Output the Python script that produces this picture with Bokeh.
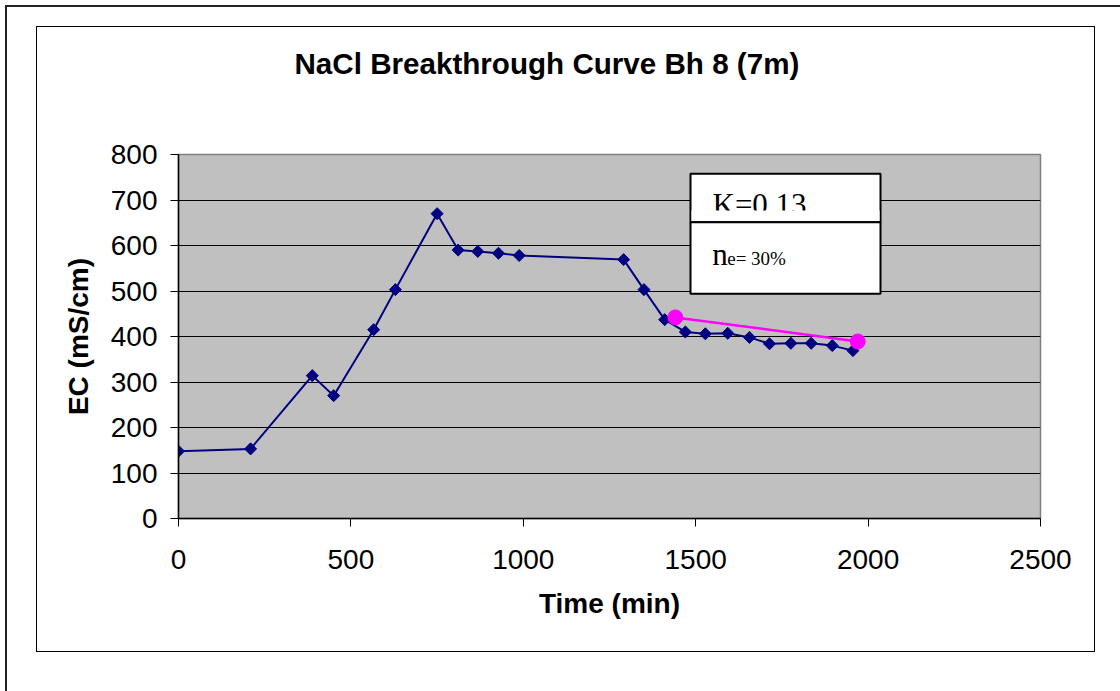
import numpy as np
from bokeh.plotting import figure
from bokeh.models import Range1d, Label, BoxAnnotation, FixedTicker, ColumnDataSource, Title
from bokeh.embed import file_html
from bokeh.resources import INLINE

# Breakthrough measurements: elapsed time (min) and electrical conductivity (mS/cm)
time_min = [0, 209, 388, 450, 566, 629, 750, 811, 868, 928, 988,
            1291, 1350, 1410, 1470, 1528, 1593, 1656, 1714, 1776, 1835, 1896, 1956]
ec_ms_cm = [148, 153, 314, 270, 415, 503, 670, 590, 587, 583, 578,
            569, 503, 437, 410, 406, 407, 398, 384, 385, 385, 380, 369]

# Fitted tail segment
fit_time = [1441, 1970]
fit_ec = [442, 389]

x_ticks = [0, 500, 1000, 1500, 2000, 2500]
y_ticks = [0, 100, 200, 300, 400, 500, 600, 700, 800]

title_text = "NaCl Breakthrough Curve Bh 8 (7m)"
k_text = "K=0.13"
n_main = "n"
n_sub = "e= 30%"

SANS = "Liberation Sans"
SERIF = "Liberation Serif"

p = figure(width=1120, height=691, output_backend="svg", toolbar_location=None,
           title=None,
           x_range=Range1d(0, 2500), y_range=Range1d(0, 800),
           min_border_left=178, min_border_right=80,
           min_border_top=154, min_border_bottom=173)

# Page / chart-area frames drawn as thin CSS lines behind a transparent border
frame_lines = [
    ("#222222", "5px 5px / 1115px 2px"),     # page frame, top
    ("#222222", "5px 5px / 2px 686px"),      # page frame, left
    ("#000000", "36px 26px / 1059px 1px"),   # chart area, top
    ("#000000", "36px 651px / 1059px 1px"),  # chart area, bottom
    ("#000000", "36px 26px / 1px 626px"),    # chart area, left
    ("#000000", "1094px 26px / 1px 626px"),  # chart area, right
]
bg = ", ".join(f"linear-gradient({c}, {c}) {pos} no-repeat" for c, pos in frame_lines)
p.styles = {"background": bg + ", white"}
p.border_fill_color = None

p.background_fill_color = "#C0C0C0"
p.outline_line_color = "#808080"
p.outline_line_width = 1.5

p.xgrid.grid_line_color = None
p.ygrid.grid_line_color = "black"
p.ygrid.grid_line_width = 1

p.xaxis.ticker = FixedTicker(ticks=x_ticks)
p.yaxis.ticker = FixedTicker(ticks=y_ticks)

for ax in (p.xaxis[0], p.yaxis[0]):
    ax.axis_line_color = "black"
    ax.axis_line_width = 1.5
    ax.major_tick_line_color = "black"
    ax.major_tick_in = 0
    ax.major_tick_out = 8
    ax.minor_tick_line_color = None
    ax.major_label_text_font = SANS
    ax.major_label_text_font_size = "28px"
    ax.major_label_text_color = "black"
    ax.axis_label_text_font = SANS
    ax.axis_label_text_font_size = "28px"
    ax.axis_label_text_font_style = "bold"
    ax.axis_label_text_color = "black"

p.xaxis.axis_label = "Time (min)"
p.yaxis.axis_label = "EC (mS/cm)"
p.xaxis.major_label_standoff = 23
p.yaxis.major_label_standoff = 13
p.xaxis.axis_label_standoff = 16
p.yaxis.axis_label_standoff = 14

# Gap between the frame and the title, then the title itself
p.add_layout(Title(text=" ", text_font_size="1px", standoff=70), "above")
p.add_layout(Title(text=title_text, text_font=SANS, text_font_size="29.6px",
                   text_font_style="bold", text_color="black",
                   align="left", offset=116, vertical_align="top", standoff=0),
             "above")

# Measured series
src = ColumnDataSource(dict(t=time_min, ec=ec_ms_cm))
p.line("t", "ec", source=src, line_color="#000080", line_width=2)
p.scatter("t", "ec", source=src, marker="square", size=8.5, angle=np.pi / 4,
          fill_color="#000080", line_color="#000080")

# Fitted segment
p.line(fit_time, fit_ec, line_color="#FF00FF", line_width=2.5)
p.scatter(fit_time, fit_ec, marker="circle", size=15,
          fill_color="#FF00FF", line_color="#FF00FF")

# Parameter text box (screen units relative to the plot frame)
units = dict(left_units="screen", right_units="screen",
             top_units="screen", bottom_units="screen")
box_kw = dict(fill_color="white", fill_alpha=1, line_color="black",
              line_alpha=1, line_width=2, **units)
p.add_layout(BoxAnnotation(left=512, right=702, top=344.7, bottom=296.3, **box_kw))
p.add_layout(Label(x=534, y=314, x_units="screen", y_units="screen",
                   text=k_text, text_font=SERIF, text_font_size="31px",
                   text_baseline="alphabetic", text_color="black"))
# text frame of the upper cell cuts off the bottom of the glyphs
p.add_layout(BoxAnnotation(left=513, right=701, top=308, bottom=297.5,
                           fill_color="white", fill_alpha=1, line_color=None, **units))
p.add_layout(BoxAnnotation(left=512, right=702, top=296.3, bottom=224.7, **box_kw))
p.add_layout(Label(x=533.7, y=264.3, x_units="screen", y_units="screen",
                   text=n_main, text_font=SERIF, text_font_size="31px",
                   text_baseline="alphabetic", text_color="black"))
p.add_layout(Label(x=548.7, y=260, x_units="screen", y_units="screen",
                   text=n_sub, text_font=SERIF, text_font_size="19px",
                   text_baseline="alphabetic", text_color="black"))

open("out.html", "w").write(file_html(p, INLINE))
